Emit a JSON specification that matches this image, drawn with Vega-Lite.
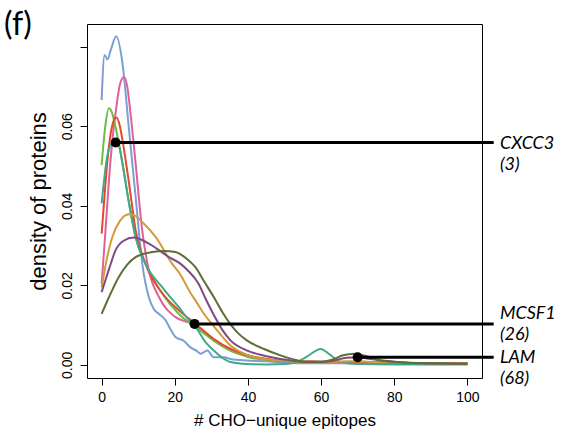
{
  "$schema": "https://vega.github.io/schema/vega-lite/v6.json",
  "width": 395,
  "height": 354,
  "autosize": {"type": "none"},
  "padding": {"left": 87, "top": 24, "right": 89, "bottom": 56},
  "background": "white",
  "config": {"view": {"stroke": "black", "strokeWidth": 1}, "font": "Liberation Sans"},
  "title": {"text": "(f)", "anchor": "start", "frame": "group", "orient": "top", "offset": -43, "dx": -83, "baseline": "alphabetic", "font": "Lato", "fontSize": 32, "fontWeight": "normal", "color": "black"},
  "datasets": {
    "curves": [
      {"series": "blue", "x": 0, "y": 0.0666}, {"series": "blue", "x": 0.8, "y": 0.0779}, {"series": "blue", "x": 1.6, "y": 0.0768}, {"series": "blue", "x": 2.6, "y": 0.0795}, {"series": "blue", "x": 4.0, "y": 0.0826}, {"series": "blue", "x": 5.7, "y": 0.0758}, {"series": "blue", "x": 7.5, "y": 0.059}, {"series": "blue", "x": 9.3, "y": 0.0422}, {"series": "blue", "x": 11.1, "y": 0.0255}, {"series": "blue", "x": 12.9, "y": 0.017}, {"series": "blue", "x": 14.3, "y": 0.014}, {"series": "blue", "x": 15.7, "y": 0.0128}, {"series": "blue", "x": 17.5, "y": 0.0112}, {"series": "blue", "x": 18.8, "y": 0.009}, {"series": "blue", "x": 20.2, "y": 0.007}, {"series": "blue", "x": 22.5, "y": 0.006}, {"series": "blue", "x": 24.3, "y": 0.0044}, {"series": "blue", "x": 26, "y": 0.0035}, {"series": "blue", "x": 27.1, "y": 0.0028}, {"series": "blue", "x": 28.9, "y": 0.0036}, {"series": "blue", "x": 30.7, "y": 0.0019}, {"series": "blue", "x": 33.4, "y": 0.0019}, {"series": "blue", "x": 35.3, "y": 0.0015}, {"series": "blue", "x": 39.8, "y": 0.0011}, {"series": "blue", "x": 45, "y": 0.0009}, {"series": "blue", "x": 50, "y": 0.0006}, {"series": "blue", "x": 55, "y": 0.0004}, {"series": "blue", "x": 60, "y": 0.0004}, {"series": "blue", "x": 70, "y": 0.0004}, {"series": "blue", "x": 80, "y": 0.0003}, {"series": "blue", "x": 90, "y": 0.0003}, {"series": "blue", "x": 100, "y": 0.0003},

      {"series": "pink", "x": 0, "y": 0.0204}, {"series": "pink", "x": 1, "y": 0.033}, {"series": "pink", "x": 2, "y": 0.0464}, {"series": "pink", "x": 3, "y": 0.057}, {"series": "pink", "x": 3.8, "y": 0.0632}, {"series": "pink", "x": 5, "y": 0.0705}, {"series": "pink", "x": 6.1, "y": 0.0724}, {"series": "pink", "x": 7, "y": 0.07}, {"series": "pink", "x": 7.9, "y": 0.0632}, {"series": "pink", "x": 9.3, "y": 0.0506}, {"series": "pink", "x": 11.1, "y": 0.0338}, {"series": "pink", "x": 12.9, "y": 0.0238}, {"series": "pink", "x": 15.7, "y": 0.017}, {"series": "pink", "x": 20.2, "y": 0.012}, {"series": "pink", "x": 24.8, "y": 0.0103}, {"series": "pink", "x": 27.5, "y": 0.0085}, {"series": "pink", "x": 30.7, "y": 0.0061}, {"series": "pink", "x": 35.3, "y": 0.0036}, {"series": "pink", "x": 40, "y": 0.0022}, {"series": "pink", "x": 44.4, "y": 0.0015}, {"series": "pink", "x": 50, "y": 0.001}, {"series": "pink", "x": 55, "y": 0.0008}, {"series": "pink", "x": 60, "y": 0.0008}, {"series": "pink", "x": 65, "y": 0.0007}, {"series": "pink", "x": 70, "y": 0.0008}, {"series": "pink", "x": 80, "y": 0.0005}, {"series": "pink", "x": 90, "y": 0.0004}, {"series": "pink", "x": 100, "y": 0.0004},

      {"series": "green", "x": 0, "y": 0.0502}, {"series": "green", "x": 1, "y": 0.06}, {"series": "green", "x": 2, "y": 0.0645}, {"series": "green", "x": 2.8, "y": 0.0635}, {"series": "green", "x": 3.8, "y": 0.0598}, {"series": "green", "x": 5.7, "y": 0.0506}, {"series": "green", "x": 7.5, "y": 0.0406}, {"series": "green", "x": 9.3, "y": 0.0321}, {"series": "green", "x": 12, "y": 0.0254}, {"series": "green", "x": 16.6, "y": 0.0179}, {"series": "green", "x": 21.1, "y": 0.0128}, {"series": "green", "x": 25.7, "y": 0.0095}, {"series": "green", "x": 30.7, "y": 0.0061}, {"series": "green", "x": 35.3, "y": 0.0035}, {"series": "green", "x": 40, "y": 0.002}, {"series": "green", "x": 45, "y": 0.0012}, {"series": "green", "x": 50, "y": 0.0009}, {"series": "green", "x": 60, "y": 0.0007}, {"series": "green", "x": 70, "y": 0.0008}, {"series": "green", "x": 80, "y": 0.0005}, {"series": "green", "x": 90, "y": 0.0004}, {"series": "green", "x": 100, "y": 0.0003},

      {"series": "red", "x": 0, "y": 0.033}, {"series": "red", "x": 1, "y": 0.045}, {"series": "red", "x": 2, "y": 0.055}, {"series": "red", "x": 3, "y": 0.0605}, {"series": "red", "x": 4, "y": 0.0622}, {"series": "red", "x": 5, "y": 0.06}, {"series": "red", "x": 5.7, "y": 0.0565}, {"series": "red", "x": 7.5, "y": 0.0456}, {"series": "red", "x": 9.3, "y": 0.0338}, {"series": "red", "x": 12, "y": 0.0254}, {"series": "red", "x": 16.6, "y": 0.018}, {"series": "red", "x": 21.1, "y": 0.0137}, {"series": "red", "x": 25.7, "y": 0.0103}, {"series": "red", "x": 30.7, "y": 0.0065}, {"series": "red", "x": 35.3, "y": 0.004}, {"series": "red", "x": 40, "y": 0.0024}, {"series": "red", "x": 45, "y": 0.0015}, {"series": "red", "x": 50, "y": 0.001}, {"series": "red", "x": 60, "y": 0.0008}, {"series": "red", "x": 70, "y": 0.0007}, {"series": "red", "x": 80, "y": 0.0005}, {"series": "red", "x": 90, "y": 0.0004}, {"series": "red", "x": 100, "y": 0.0004},

      {"series": "teal", "x": 0, "y": 0.0406}, {"series": "teal", "x": 1.5, "y": 0.0523}, {"series": "teal", "x": 2.8, "y": 0.0558}, {"series": "teal", "x": 3.8, "y": 0.0564}, {"series": "teal", "x": 4.8, "y": 0.055}, {"series": "teal", "x": 5.7, "y": 0.0506}, {"series": "teal", "x": 7.5, "y": 0.0406}, {"series": "teal", "x": 9.3, "y": 0.0321}, {"series": "teal", "x": 12, "y": 0.0254}, {"series": "teal", "x": 16.6, "y": 0.0195}, {"series": "teal", "x": 21.1, "y": 0.0145}, {"series": "teal", "x": 24.3, "y": 0.0108}, {"series": "teal", "x": 25.7, "y": 0.0095}, {"series": "teal", "x": 28.4, "y": 0.0057}, {"series": "teal", "x": 30.7, "y": 0.0036}, {"series": "teal", "x": 33, "y": 0.0018}, {"series": "teal", "x": 35.3, "y": 0.0007}, {"series": "teal", "x": 39.8, "y": 0.0002}, {"series": "teal", "x": 45, "y": 0.0001}, {"series": "teal", "x": 50, "y": 0.0002}, {"series": "teal", "x": 53, "y": 0.0006}, {"series": "teal", "x": 56, "y": 0.002}, {"series": "teal", "x": 59.9, "y": 0.004}, {"series": "teal", "x": 62.5, "y": 0.0025}, {"series": "teal", "x": 65.4, "y": 0.0007}, {"series": "teal", "x": 70, "y": 0.0002}, {"series": "teal", "x": 80, "y": 0.0001}, {"series": "teal", "x": 90, "y": 0.0001}, {"series": "teal", "x": 100, "y": 0.0001},

      {"series": "gold", "x": 0, "y": 0.0195}, {"series": "gold", "x": 1.5, "y": 0.027}, {"series": "gold", "x": 2.9, "y": 0.0321}, {"series": "gold", "x": 5, "y": 0.0362}, {"series": "gold", "x": 7.5, "y": 0.0379}, {"series": "gold", "x": 9, "y": 0.0376}, {"series": "gold", "x": 11.1, "y": 0.0359}, {"series": "gold", "x": 14.8, "y": 0.0321}, {"series": "gold", "x": 19.3, "y": 0.0254}, {"series": "gold", "x": 21.6, "y": 0.0226}, {"series": "gold", "x": 23.9, "y": 0.0187}, {"series": "gold", "x": 26.2, "y": 0.0154}, {"series": "gold", "x": 28, "y": 0.0128}, {"series": "gold", "x": 30.7, "y": 0.0097}, {"series": "gold", "x": 35.3, "y": 0.0048}, {"series": "gold", "x": 39.8, "y": 0.0025}, {"series": "gold", "x": 45, "y": 0.0014}, {"series": "gold", "x": 48.9, "y": 0.0011}, {"series": "gold", "x": 55, "y": 0.0008}, {"series": "gold", "x": 60, "y": 0.0007}, {"series": "gold", "x": 68, "y": 0.0009}, {"series": "gold", "x": 75, "y": 0.0007}, {"series": "gold", "x": 85, "y": 0.0005}, {"series": "gold", "x": 100, "y": 0.0004},

      {"series": "purple", "x": 0, "y": 0.0183}, {"series": "purple", "x": 2, "y": 0.024}, {"series": "purple", "x": 3.8, "y": 0.0288}, {"series": "purple", "x": 6, "y": 0.0312}, {"series": "purple", "x": 8.8, "y": 0.032}, {"series": "purple", "x": 12.9, "y": 0.0305}, {"series": "purple", "x": 18.4, "y": 0.0271}, {"series": "purple", "x": 21.6, "y": 0.0254}, {"series": "purple", "x": 23.5, "y": 0.0238}, {"series": "purple", "x": 26.5, "y": 0.0204}, {"series": "purple", "x": 28.5, "y": 0.0165}, {"series": "purple", "x": 30.7, "y": 0.0125}, {"series": "purple", "x": 33, "y": 0.0088}, {"series": "purple", "x": 35.3, "y": 0.0061}, {"series": "purple", "x": 39.8, "y": 0.0036}, {"series": "purple", "x": 44, "y": 0.0024}, {"series": "purple", "x": 48.9, "y": 0.0015}, {"series": "purple", "x": 53, "y": 0.001}, {"series": "purple", "x": 58, "y": 0.0007}, {"series": "purple", "x": 63, "y": 0.001}, {"series": "purple", "x": 67, "y": 0.0018}, {"series": "purple", "x": 70, "y": 0.0019}, {"series": "purple", "x": 74, "y": 0.0014}, {"series": "purple", "x": 80.9, "y": 0.0007}, {"series": "purple", "x": 90, "y": 0.0004}, {"series": "purple", "x": 100, "y": 0.0003},

      {"series": "olive", "x": 0, "y": 0.0128}, {"series": "olive", "x": 2, "y": 0.017}, {"series": "olive", "x": 4.7, "y": 0.0221}, {"series": "olive", "x": 7, "y": 0.0252}, {"series": "olive", "x": 9.3, "y": 0.0271}, {"series": "olive", "x": 13.9, "y": 0.0284}, {"series": "olive", "x": 17, "y": 0.0286}, {"series": "olive", "x": 20.2, "y": 0.0284}, {"series": "olive", "x": 21.6, "y": 0.0278}, {"series": "olive", "x": 23.5, "y": 0.0265}, {"series": "olive", "x": 25.7, "y": 0.0245}, {"series": "olive", "x": 28, "y": 0.021}, {"series": "olive", "x": 30.7, "y": 0.017}, {"series": "olive", "x": 33, "y": 0.0133}, {"series": "olive", "x": 35.3, "y": 0.0101}, {"series": "olive", "x": 37.5, "y": 0.0078}, {"series": "olive", "x": 39.8, "y": 0.0061}, {"series": "olive", "x": 44.4, "y": 0.004}, {"series": "olive", "x": 48.9, "y": 0.0024}, {"series": "olive", "x": 52, "y": 0.0015}, {"series": "olive", "x": 55.3, "y": 0.0008}, {"series": "olive", "x": 59.9, "y": 0.0008}, {"series": "olive", "x": 63, "y": 0.0013}, {"series": "olive", "x": 66, "y": 0.0024}, {"series": "olive", "x": 69, "y": 0.0028}, {"series": "olive", "x": 72, "y": 0.0023}, {"series": "olive", "x": 76.3, "y": 0.0011}, {"series": "olive", "x": 82, "y": 0.0006}, {"series": "olive", "x": 90, "y": 0.0004}, {"series": "olive", "x": 100, "y": 0.0003}
    ],
    "ann": [
      {"protein": "CXCC3", "label": "CXCC3\n(3)", "x": 3.83, "y": 0.0559},
      {"protein": "MCSF1", "label": "MCSF1\n(26)", "x": 25.4, "y": 0.0103},
      {"protein": "LAM", "label": "LAM\n(68)", "x": 70.0, "y": 0.0019}
    ]
  },
  "layer": [
    {
      "data": {"name": "curves"},
      "mark": {"type": "line", "strokeWidth": 2, "interpolate": "monotone"},
      "encoding": {
        "x": {"field": "x", "type": "quantitative", "scale": {"domain": [-4, 104], "nice": false, "zero": false},
          "axis": {"title": "# CHO\u2212unique epitopes", "values": [0, 20, 40, 60, 80, 100], "grid": false, "domain": false, "ticks": true, "tickSize": 7, "tickColor": "black", "labelFontSize": 14, "labelColor": "black", "labelPadding": 5, "labelFont": "Liberation Sans", "titleFont": "Liberation Sans", "titleFontSize": 17, "titleFontWeight": "normal", "titleColor": "black", "titlePadding": 8}},
        "y": {"field": "y", "type": "quantitative", "scale": {"domain": [-0.0033, 0.0857], "nice": false, "zero": false},
          "axis": {"title": "density of proteins", "values": [0, 0.02, 0.04, 0.06, 0.08], "labelExpr": "datum.value > 0.07 ? '' : format(datum.value, '.2f')", "grid": false, "domain": false, "ticks": true, "tickSize": 7, "tickColor": "black", "labelAngle": 270, "labelAlign": "center", "labelBaseline": "bottom", "labelFontSize": 14, "labelColor": "black", "labelPadding": 6, "labelFont": "Liberation Sans", "titleFont": "Liberation Sans", "titleFontSize": 22, "titleFontWeight": "normal", "titleColor": "black", "titlePadding": 10}},
        "color": {"field": "series", "type": "nominal", "legend": null,
          "scale": {"domain": ["blue", "pink", "green", "red", "teal", "gold", "purple", "olive"],
                    "range": ["#7b9fd4", "#e0609a", "#6bbd45", "#e5492d", "#42a88a", "#d4993a", "#7d4a82", "#5b7035"]}}
      }
    },
    {
      "data": {"name": "ann"},
      "mark": {"type": "rule", "strokeWidth": 3, "color": "black"},
      "encoding": {"x": {"field": "x", "type": "quantitative"}, "x2": {"datum": 107.2}, "y": {"field": "y", "type": "quantitative"}}
    },
    {
      "data": {"name": "ann"},
      "mark": {"type": "point", "filled": true, "color": "black", "size": 100, "opacity": 1},
      "encoding": {"x": {"field": "x", "type": "quantitative"}, "y": {"field": "y", "type": "quantitative"}}
    },
    {
      "data": {"name": "ann"},
      "transform": [{"filter": "datum.protein != 'MCSF1'"}],
      "mark": {"type": "text", "font": "Lato", "fontStyle": "italic", "fontSize": 18, "align": "left", "baseline": "top", "dy": -8, "lineBreak": "\n", "lineHeight": 21, "color": "black"},
      "encoding": {"x": {"datum": 108.9}, "y": {"field": "y", "type": "quantitative"}, "text": {"field": "label"}}
    },
    {
      "data": {"name": "ann"},
      "transform": [{"filter": "datum.protein == 'MCSF1'"}],
      "mark": {"type": "text", "font": "Lato", "fontStyle": "italic", "fontSize": 18, "align": "left", "baseline": "top", "dy": -19, "lineBreak": "\n", "lineHeight": 21, "color": "black"},
      "encoding": {"x": {"datum": 108.9}, "y": {"field": "y", "type": "quantitative"}, "text": {"field": "label"}}
    }
  ]
}
